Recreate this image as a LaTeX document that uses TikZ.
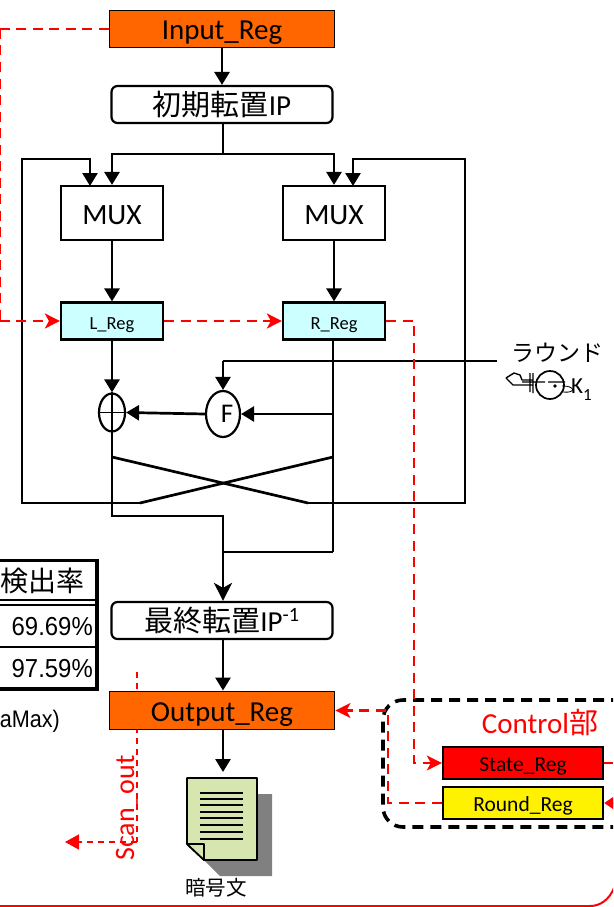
\documentclass[tikz,border=0pt]{standalone}
\usepackage{fontspec}
\setmainfont{Carlito}
\newfontfamily\cjk{Noto Sans CJK JP}
\newfontfamily\arialf{Liberation Sans}
\usetikzlibrary{arrows.meta,shapes.geometric}
\definecolor{orgc}{RGB}{255,102,0}
\definecolor{cyanc}{RGB}{204,255,255}
\definecolor{docc}{RGB}{215,230,175}
\definecolor{shadowc}{RGB}{128,128,128}
\tikzset{
 x=1pt,y=-1pt,
 tb/.style={text height=#1,text depth=0pt},
 blk/.style={line width=2.7pt,black},
 arr/.style={blk,-{Triangle[length=13pt,width=15pt]}},
 rd/.style={red,line width=2.2pt,dash pattern=on 10pt off 6.5pt},
 rarr/.style={rd,-{Stealth[length=15pt,width=15pt,inset=4pt]}},
 orangebox/.style={draw=black,line width=1.9pt,fill=orgc,minimum width=225pt,minimum height=37pt,inner sep=0pt,tb=21pt,font=\fontsize{29}{29}\selectfont},
 rbox/.style={draw=black,line width=2.2pt,rounded corners=6pt,fill=white,minimum width=221pt,minimum height=37pt,inner sep=0pt,tb=21pt,font=\fontsize{29}{29}\selectfont},
 muxbox/.style={draw=black,line width=2.2pt,fill=white,minimum width=102pt,minimum height=54pt,inner sep=0pt,tb=22pt,font=\fontsize{29.5}{29.5}\selectfont},
 cyanbox/.style={draw=black,line width=2.2pt,fill=cyanc,minimum width=102pt,minimum height=37pt,inner sep=0pt,tb=16pt,font=\fontsize{18.5}{18.5}\selectfont},
 ctlbox/.style={draw=black,line width=2.4pt,minimum width=160pt,minimum height=32pt,inner sep=0pt,tb=16pt,font=\fontsize{21.5}{21.5}\selectfont},
 circ/.style={draw=black,line width=2.2pt,fill=white,ellipse,inner sep=0pt,minimum width=#1},
 tabtext/.style={anchor=east,inner sep=0pt,font=\arialf\fontsize{26}{26}\selectfont},
}
\begin{document}
\begin{tikzpicture}
\useasboundingbox (0,0) rectangle (613,907);
\clip (0,0) rectangle (613,907);
% table
\draw[line width=3.8pt] (-10,560.5) rectangle (97,689);
\draw[line width=1.8pt] (-10,600) -- (97,600) (-10,605) -- (97,605) (-10,647) -- (97,647);
\node[inner sep=0pt,anchor=east,font=\cjk\fontsize{28}{28}\selectfont] (t0) at (85,581) {検出率};
\node[tabtext,xscale=.92] (t1) at (93,627) {69.69\%};
\node[tabtext,xscale=.92] (t2) at (93,669) {97.59\%};
\node[inner sep=0pt,anchor=east,font=\arialf\fontsize{24}{24}\selectfont,xscale=.9] (t3) at (60,721) {aMax)};
% scan out (behind Output_Reg)
\coordinate (so1) at (137,672);
\coordinate (so2) at (137,842);
\coordinate (so3) at (65,842);
\draw[red,line width=1.5pt,dash pattern=on 6pt off 5pt] (so1) -- (so2);
\draw[red,line width=1.5pt,dash pattern=on 6pt off 5pt,-{Triangle[length=14pt,width=15pt]}] (so2) -- (so3);
\node[red,rotate=90,inner sep=0pt,anchor=base west,font=\fontsize{28}{28}\selectfont] (scan) at (134,861) {Scan\_out};
% nodes
\node[orangebox] (inreg) at (222,29) {Input\_Reg};
\node[rbox] (ip) at (222,104.5) {{\cjk 初期転置}IP};
\node[muxbox] (muxl) at (112,213) {MUX};
\node[muxbox] (muxr) at (334,213) {MUX};
\node[cyanbox] (lreg) at (112,321) {L\_Reg};
\node[cyanbox] (rreg) at (334,321) {R\_Reg};
\node[circ=26pt,minimum height=38pt] (xr) at (112,412.5) {};
\node[circ=34pt,minimum height=46pt,tb=16pt,font=\fontsize{27}{27}\selectfont] (ff) at (223,414) {\hspace*{8pt}F};
\node[rbox] (fp) at (222,620.5) {{\cjk 最終転置}IP\textsuperscript{-1}};
\node[orangebox,minimum height=38pt] (outreg) at (222,710.5) {Output\_Reg};
\node[ctlbox,fill=red] (state) at (523,763) {State\_Reg};
\node[ctlbox,fill=yellow] (round) at (523,803) {Round\_Reg};
\node[inner sep=0pt,font=\cjk\fontsize{23}{23}\selectfont] (raund) at (557,353) {ラウンド};
\node[inner sep=0pt,anchor=base west,font=\fontsize{23}{23}\selectfont] (k1) at (571,393) {K\raisebox{-7pt}{\fontsize{17}{17}\selectfont 1}};
\node[red,inner sep=0pt,anchor=base,font=\fontsize{29}{29}\selectfont] (ctl) at (540,733) {Control{\cjk 部}};
\node[inner sep=0pt,font=\cjk\fontsize{20.5}{20.5}\selectfont] (cipher) at (216,888) {暗号文};
% black connectors
\draw[arr] (inreg.south) -- (ip.north -| inreg.south);
\coordinate (j1) at (223,154);
\draw[blk] (ip.south -| j1) -- (j1);
\draw[arr] (j1) -| (muxl.north);
\draw[arr] (j1) -| (muxr.north);
\draw[arr] (muxl.south) -- (lreg.north);
\draw[arr] (muxr.south) -- (rreg.north);
\draw[arr] (lreg.south) -- (xr.north);
\coordinate (flN) at (22,159);
\coordinate (flS) at (22,503);
\coordinate (frN) at (465,159);
\coordinate (frS) at (465,503);
\coordinate (cA) at (112,457);
\coordinate (cB) at (308,503);
\coordinate (cC) at (333,457);
\coordinate (cD) at (140,503);
\draw[arr] (cD) -- (flS) -- (flN) -| (90,186);
\draw[arr] (cB) -- (frS) -- (frN) -| (353,186);
\draw[blk] (cA) -- (cB);
\draw[blk] (cC) -- (cD);
\coordinate (rk) at (497,361);
\draw[blk] (rk) -- (223,361);
\draw[arr] (223,361) -- (ff.north);
\coordinate (rb) at (333,552);
\draw[blk] (rreg.south -| rb) -- (rb);
\coordinate (fin) at (333,414);
\draw[arr] (fin) -- (ff.east);
\draw[arr] (ff.west) -- (xr.east);
\draw[blk,line width=1.8pt] (xr.north) -- (xr.south) (xr.west) -- (xr.east);
\coordinate (m1) at (112,516);
\coordinate (m2) at (223,516);
\coordinate (m3) at (223,552);
\draw[blk] (xr.south) -- (m1) -- (m2) -- (m3);
\draw[blk] (rb) -- (m3);
\draw[blk,-{Stealth[length=18pt,width=18pt,inset=5pt]}] (m3) -- (fp.north -| m3);
\draw[arr] (fp.south -| m3) -- (outreg.north -| m3);
\coordinate (docT) at (223,772);
\draw[arr] (outreg.south -| m3) -- (docT);
% document icon
\fill[shadowc] (257,794) -- (272,794) -- (272,876) -- (220,876) -- (204,860) -- (257,860) -- cycle;
\draw[line width=1.7pt,fill=docc,line join=round] (187,778) -- (257,778) -- (257,860) -- (204,860) -- (187,844) -- cycle;
\draw[line width=1.7pt,fill=docc,line join=round] (187,844) -- (204,844) -- (204,860) -- cycle;
\foreach \yy in {793,799,805,812,818,825,832,839} \draw[line width=1.9pt] (200,\yy) -- (243,\yy);
% garbled symbol
\draw[line width=1.7pt] (550,385) circle[radius=14];
\draw[line width=1.4pt,line join=round] (506,378) -- (514,373) -- (520,375) -- (522,380) -- (533,380) (506,378) -- (513,385) -- (533,385) (522,382) -- (545,382) (533,373) -- (533,393) (530,373) -- (530,392) (548,382) -- (565,382);
\fill (555,386) circle[radius=1.8];
\draw[line width=.8pt] (562,386) .. controls (568,386) and (572,387) .. (573,390) .. controls (570,393) and (566,392) .. (562,392);
% control frame
\draw[line width=3.6pt,dash pattern=on 11pt off 7pt,rounded corners=20pt] (640,700) -- (383,700) -- (383,827) -- (640,827);
% red connectors
\coordinate (a1) at (-0.3,29);
\coordinate (a2) at (-0.3,321);
\draw[rd] (inreg.west) -- (a1);
\draw[rd] (a1) -- (a2);
\draw[rarr] (a2) -- (lreg.west);
\draw[rarr] (lreg.east) -- (rreg.west);
\coordinate (b1) at (414,321);
\coordinate (b2) at (414,763);
\draw[rarr] (rreg.east) -- (b1) -- (b2) -- (state.west);
\coordinate (c1) at (388,803);
\coordinate (c2) at (388,710.5);
\draw[rarr] (round.west) -- (c1) -- (c2) -- (outreg.east);
\coordinate (d1) at (613,763);
\coordinate (d2) at (613,803);
\draw[red,line width=2.2pt] (state.east) -- (d1);
\draw[red,line width=2.2pt,-{Triangle[length=10pt,width=13pt]}] (d2) -- (round.east);
% bottom line
\draw[red,line width=2pt] (-5,906) -- (590,906) .. controls (600,906) and (609,900) .. (614,888);
\end{tikzpicture}
\end{document}
